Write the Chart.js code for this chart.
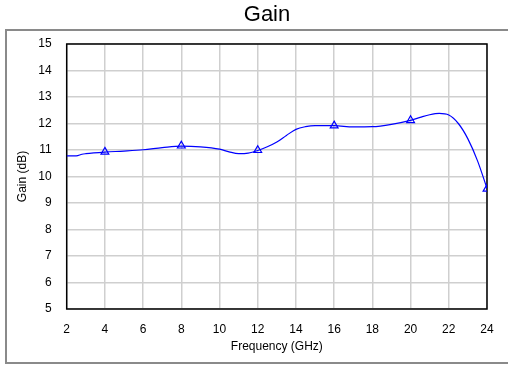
<!DOCTYPE html>
<html>
<head>
<meta charset="utf-8">
<script src="https://cdn.jsdelivr.net/npm/chart.js@4/dist/chart.umd.min.js"></script>
<style>
  html, body { margin: 0; padding: 0; background: #fff; }
  canvas { display: block; }
</style>
</head>
<body>
<canvas id="c" width="508" height="365"></canvas>
<script>
// ---- data ----
const freqGHz = [2.0, 2.5, 2.8, 3.0, 4.0, 5.0, 6.0, 7.0, 8.0, 9.0, 10.0, 10.5, 11.0, 11.5, 12.0, 12.5, 13.0, 13.5, 14.0, 14.5, 15.0, 16.0, 17.0, 18.0, 19.0, 20.0, 20.5, 21.0, 21.5, 22.0, 22.5, 23.0, 23.5, 24.0];
const gainDb  = [10.78, 10.78, 10.84, 10.86, 10.92, 10.96, 11.01, 11.09, 11.15, 11.12, 11.03, 10.93, 10.86, 10.88, 10.98, 11.12, 11.30, 11.55, 11.78, 11.88, 11.92, 11.92, 11.87, 11.88, 11.97, 12.12, 12.23, 12.33, 12.38, 12.32, 12.00, 11.42, 10.60, 9.55];
const markerFreq = [4, 8, 12, 16, 20, 24];
const markerGain = [10.93, 11.16, 10.99, 11.92, 12.12, 9.53];
const xTicks = [2, 4, 6, 8, 10, 12, 14, 16, 18, 20, 22, 24];
const yTicks = [5, 6, 7, 8, 9, 10, 11, 12, 13, 14, 15];

const FONT = "Arial, 'Liberation Sans', sans-serif";

const framePlugin = {
  id: 'frame',
  beforeDraw(chart) {
    const ctx = chart.ctx;
    ctx.save();
    ctx.fillStyle = '#fff';
    ctx.fillRect(0, 0, chart.width, chart.height);
    ctx.strokeStyle = '#8a8a8a';
    ctx.lineWidth = 2;
    ctx.strokeRect(6, 30, 520, 333);
    ctx.restore();
  },
  beforeDatasetsDraw(chart) {
    const a = chart.chartArea;
    const ctx = chart.ctx;
    ctx.save();
    ctx.strokeStyle = '#000';
    ctx.lineWidth = 1.5;
    ctx.strokeRect(a.left, a.top, a.right - a.left, a.bottom - a.top);
    ctx.restore();
  },
  afterLayout(chart) {
    const t = chart.titleBlock;
    if (t) {
      const w = t.right - t.left;
      const cx = 267;
      t.left = cx - w / 2;
      t.right = cx + w / 2;
    }
  }
};

new Chart(document.getElementById('c'), {
  type: 'line',
  data: {
    datasets: [
      {
        label: 'Markers',
        data: markerFreq.map((f, i) => ({ x: f, y: markerGain[i] })),
        showLine: false,
        pointStyle: 'triangle',
        pointRadius: 4.5,
        pointBorderWidth: 1.2,
        pointBorderColor: '#0000ff',
        pointBackgroundColor: 'rgba(0,0,0,0)',
        order: 0
      },
      {
        label: 'Gain',
        data: freqGHz.map((f, i) => ({ x: f, y: gainDb[i] })),
        borderColor: '#0000ff',
        borderWidth: 1.2,
        pointRadius: 0,
        cubicInterpolationMode: 'monotone',
        fill: false,
        order: 1
      }
    ]
  },
  options: {
    responsive: false,
    animation: false,
    events: [],
    layout: { padding: { left: 6, right: 21, top: 0, bottom: 0 } },
    plugins: {
      legend: { display: false },
      tooltip: { enabled: false },
      title: {
        display: true,
        text: 'Gain',
        color: '#000',
        font: { family: FONT, size: 22, weight: 'normal', lineHeight: 1.2 },
        padding: { top: 2, bottom: 15.6 }
      }
    },
    scales: {
      x: {
        type: 'linear',
        min: 2, max: 24,
        afterBuildTicks: s => { s.ticks = xTicks.map(v => ({ value: v })); },
        ticks: { color: '#000', font: { family: FONT, size: 12 }, padding: 13, maxRotation: 0, autoSkip: false },
        grid: { color: '#cfcfcf', lineWidth: 1.5, drawTicks: false },
        border: { display: false },
        title: { display: true, text: 'Frequency (GHz)', color: '#000', font: { family: FONT, size: 12 }, padding: { top: 0, bottom: 11 } },
        afterFit: s => { s.height = 56; }
      },
      y: {
        type: 'linear',
        min: 5, max: 15,
        afterBuildTicks: s => { s.ticks = yTicks.map(v => ({ value: v })); },
        ticks: { color: '#000', font: { family: FONT, size: 12 }, padding: 15, autoSkip: false },
        grid: { color: '#cfcfcf', lineWidth: 1.5, drawTicks: false },
        border: { display: false },
        title: { display: true, text: 'Gain (dB)', color: '#000', font: { family: FONT, size: 12 }, padding: { top: 9, bottom: 0 } },
        afterFit: s => { s.width = 60.7; }
      }
    }
  },
  plugins: [framePlugin]
});
</script>
</body>
</html>
